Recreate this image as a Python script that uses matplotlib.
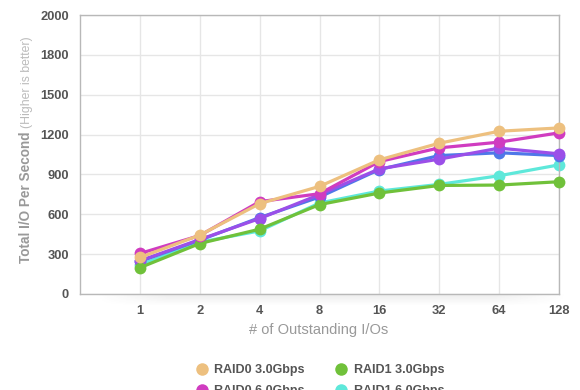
import matplotlib
matplotlib.use("Agg")
import matplotlib.pyplot as plt
from matplotlib.lines import Line2D
import numpy as np

plt.rcParams['font.family'] = ['Liberation Sans', 'DejaVu Sans']

categories = ["1", "2", "4", "8", "16", "32", "64", "128"]
y_ticks = [0, 300, 600, 900, 1200, 1500, 1800, 2100]
y_tick_labels = ["0", "300", "600", "900", "1200", "1500", "1800", "2000"]

raid0_3g = [275, 443, 680, 810, 1010, 1135, 1225, 1250]
raid0_6g = [305, 440, 695, 755, 997, 1100, 1143, 1213]
raid1_3g = [198, 380, 488, 673, 760, 817, 820, 845]
raid1_6g = [218, 390, 475, 685, 775, 825, 890, 972]
raid10_3g = [245, 405, 575, 730, 937, 1042, 1063, 1042]
raid10_6g = [250, 410, 568, 748, 942, 1015, 1098, 1055]

series = [
    ("RAID1 6.0Gbps", raid1_6g, "#5EE8DA", 2),
    ("RAID10 3.0Gbps", raid10_3g, "#4F78E8", 3),
    ("RAID10 6.0Gbps", raid10_6g, "#9B4FE8", 4),
    ("RAID1 3.0Gbps", raid1_3g, "#70C13A", 5),
    ("RAID0 6.0Gbps", raid0_6g, "#D03CC0", 6),
    ("RAID0 3.0Gbps", raid0_3g, "#EDC07F", 7),
]

W, H = 580, 390
fig = plt.figure(figsize=(W / 100, H / 100), dpi=100)

# soft shadow under the plot area
sh = fig.add_axes([95 / W, (H - 306) / H, (568 - 95) / W, 12 / H])
yy = np.linspace(1, 0, 20)[:, None]
xx = np.linspace(0, 1, 200)[None, :]
edge = np.clip(np.minimum(xx, 1 - xx) / 0.15, 0, 1)
alpha = yy * edge * 0.10
img = np.zeros((20, 200, 4))
img[..., :3] = 0.3
img[..., 3] = alpha
sh.imshow(img, aspect='auto', extent=(0, 1, 0, 1))
sh.axis('off')

ax = fig.add_axes([80 / W, (H - 294) / H, (559 - 80) / W, (294 - 15) / H])
ax.set_facecolor('white')

x = list(range(len(categories)))
handles = {}
for name, vals, color, z in series:
    ln, = ax.plot(x, vals, color=color, lw=2.3, marker='o', ms=8.5,
                  markeredgewidth=0, zorder=z, clip_on=False)
    handles[name] = ln

ax.set_xlim(-1, 7)
ax.set_ylim(0, 2100)
ax.set_xticks(x)
ax.set_xticklabels(categories)
ax.set_yticks(y_ticks)
ax.set_yticklabels(y_tick_labels)
ax.tick_params(length=0, labelsize=9.3, labelcolor="#555555")
ax.tick_params(axis='x', pad=8)
ax.tick_params(axis='y', pad=8)
for lab in ax.get_xticklabels() + ax.get_yticklabels():
    lab.set_fontweight('bold')
ax.grid(True, color="#e6e6e6", lw=1)
ax.set_axisbelow(True)
for s in ax.spines.values():
    s.set_color("#b8b8b8")
    s.set_linewidth(1)

fig.text(319 / W, 1 - 330 / H, "# of Outstanding I/Os", ha='center', va='center',
         fontsize=10.5, color="#999999")
fig.text(26 / W, 1 - 263 / H, "Total I/O Per Second", rotation=90, ha='center',
         va='bottom', fontsize=9.8, fontweight='bold', color="#999999")
fig.text(27 / W, 1 - 128 / H, "(Higher is better)", rotation=90, ha='center',
         va='bottom', fontsize=8.8, color="#bbbbbb")

order = ["RAID0 3.0Gbps", "RAID0 6.0Gbps", "RAID10 3.0Gbps",
         "RAID1 3.0Gbps", "RAID1 6.0Gbps", "RAID10 6.0Gbps"]
leg_handles = [Line2D([], [], ls='none', marker='o', ms=9, markeredgewidth=0,
                      color=handles[n].get_color()) for n in order]
leg = fig.legend(leg_handles, order, ncol=2, loc='upper left',
                 bbox_to_anchor=(196 / W, 1 - 364 / H), frameon=False,
                 handlelength=0.9, handletextpad=0.55, columnspacing=1.9,
                 labelspacing=0.75, fontsize=9, borderaxespad=0, borderpad=0)
for t in leg.get_texts():
    t.set_color("#555555")
    t.set_fontweight('bold')

fig.savefig("out.png", dpi=100)
